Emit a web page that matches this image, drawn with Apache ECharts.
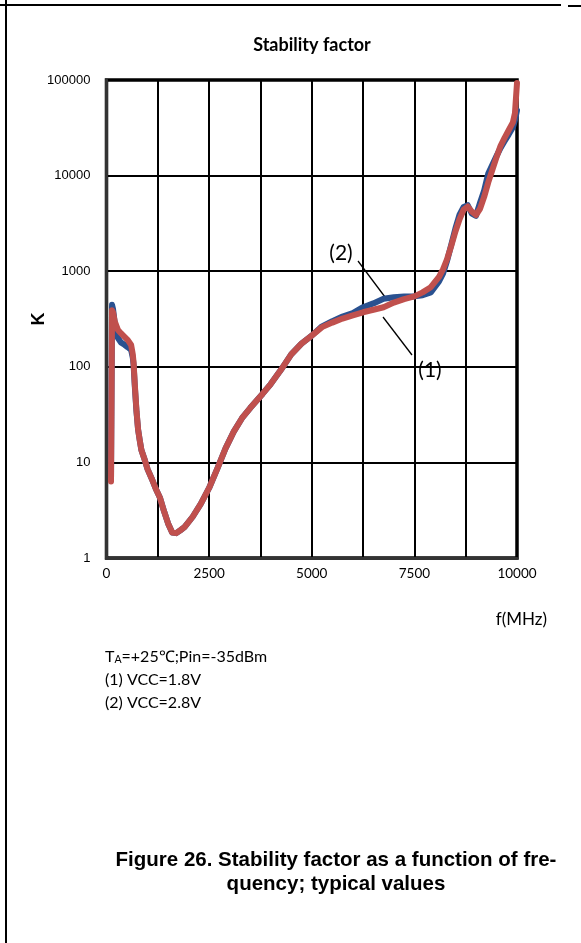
<!DOCTYPE html>
<html>
<head>
<meta charset="utf-8">
<script src="https://cdn.jsdelivr.net/npm/echarts@6/dist/echarts.min.js"></script>
<style>
html,body{margin:0;padding:0;background:#fff;}
#chart{width:581px;height:943px;}
</style>
</head>
<body>
<div id="chart"></div>
<script>
// Frequency points (MHz)
var freqMHz = [110, 135, 160, 200, 280, 350, 440, 520, 600, 640, 660, 690, 730, 770, 810, 850, 920, 1000, 1100, 1200, 1300, 1400, 1500, 1600, 1700, 1800, 1900, 2100, 2300, 2500, 2700, 2900, 3100, 3300, 3500, 3800, 4000, 4250, 4500, 4750, 5000, 5250, 5500, 5750, 6000, 6250, 6500, 6750, 7000, 7250, 7500, 7700, 7900, 8100, 8200, 8300, 8400, 8500, 8600, 8700, 8800, 8900, 9000, 9100, 9200, 9300, 9400, 9500, 9600, 9700, 9800, 9900, 9950, 10000];
// (1) VCC=1.8V (blue)
var kVcc18 = [7, 445, 400, 290, 200, 180, 170, 160, 150, 125, 105, 62, 34, 22, 17, 13.5, 11, 8.5, 6.8, 5.3, 4.3, 3.1, 2.3, 1.85, 1.82, 1.95, 2.1, 2.7, 3.7, 5.4, 8.6, 14, 21, 29, 37, 52, 66, 93, 135, 175, 212, 265, 300, 335, 365, 420, 460, 515, 535, 545, 545, 560, 600, 780, 950, 1300, 1900, 2800, 3900, 4700, 4900, 4000, 3800, 5200, 7000, 10500, 13000, 16000, 19500, 23000, 27000, 32000, 38000, 48000];
// (2) VCC=2.8V (red)
var kVcc28 = [6.3, 390, 370, 300, 243, 225, 206, 190, 169, 135, 110, 65, 35, 22, 17, 13.5, 11, 8.5, 6.8, 5.3, 4.3, 3.1, 2.3, 1.85, 1.82, 1.95, 2.1, 2.7, 3.7, 5.4, 8.6, 14, 21, 29, 37, 52, 66, 93, 135, 175, 212, 260, 290, 320, 345, 372, 395, 420, 470, 510, 545, 600, 680, 870, 1050, 1350, 1850, 2600, 3500, 4400, 4750, 4200, 3870, 4500, 6000, 8500, 11500, 15500, 20500, 25000, 30000, 36000, 45000, 93000];
var xTickStep = 1250;
var xLabelStep = 2500;

var chart = echarts.init(document.getElementById('chart'), null, {renderer: 'canvas'});
function pairs(k){ return freqMHz.map(function(f,i){ return [f, k[i]]; }); }

var option = {
  backgroundColor: '#fff',
  animation: false,
  title: {
    text: 'Stability factor',
    left: 307, top: 31, textAlign: 'center',
    textStyle: {fontFamily: 'Lato', fontWeight: 'bold', fontSize: 18, color: '#000'}
  },
  grid: {left: 106.5, right: 64, top: 80, bottom: 385, show: true, borderColor: '#000', borderWidth: 3.5, backgroundColor: 'transparent'},
  xAxis: {
    type: 'value', min: 0, max: 10000, interval: xTickStep,
    axisLine: {show: true, lineStyle: {color: '#333', width: 3}},
    axisTick: {show: false},
    splitLine: {show: true, lineStyle: {color: '#000', width: 2}},
    axisLabel: {
      margin: 9, color: '#000', fontFamily: 'Lato', fontSize: 13.5,
      formatter: function(v){ return (v % xLabelStep === 0) ? String(v) : ''; }
    }
  },
  yAxis: {
    type: 'log', logBase: 10, min: 1, max: 100000,
    name: 'K', nameLocation: 'middle', nameGap: 58, nameRotate: 90, nameMoveOverlap: false,
    nameTextStyle: {fontFamily: 'Liberation Sans', fontWeight: 'bold', fontSize: 18, color: '#000'},
    axisLine: {show: true, lineStyle: {color: '#333', width: 3}},
    axisTick: {show: false},
    splitLine: {show: true, lineStyle: {color: '#000', width: 2}},
    axisLabel: {margin: 16, color: '#000', fontFamily: 'Liberation Sans', fontSize: 13,
      formatter: function(v){ return String(Math.round(v)); }}
  },
  series: [
    {
      name: '(1) VCC=1.8V', type: 'line', data: pairs(kVcc18), showSymbol: false, z: 2,
      lineStyle: {color: '#2A5190', width: 6, cap: 'round', join: 'round'}
    },
    {
      name: '(2) VCC=2.8V', type: 'line', data: pairs(kVcc28), showSymbol: false, z: 3,
      lineStyle: {color: '#C0504D', width: 6, cap: 'round', join: 'round'}
    }
  ],
  graphic: [
    {type: 'line', shape: {x1: 6, y1: 0, x2: 6, y2: 943}, style: {stroke: '#000', lineWidth: 2}},
    {type: 'line', shape: {x1: 0, y1: 5, x2: 561, y2: 5}, style: {stroke: '#000', lineWidth: 2}},
    {type: 'line', shape: {x1: 568, y1: 6, x2: 581, y2: 6}, style: {stroke: '#000', lineWidth: 2}},
    {type: 'text', x: 547, y: 620, style: {text: 'f(MHz)', fontFamily: 'Lato', fontSize: 17, fill: '#000', textAlign: 'right', textVerticalAlign: 'middle'}},
    {type: 'text', x: 341, y: 253, style: {text: '(2)', fontFamily: 'Lato', fontSize: 21, fill: '#000', textAlign: 'center', textVerticalAlign: 'middle'}},
    {type: 'text', x: 430, y: 370, style: {text: '(1)', fontFamily: 'Lato', fontSize: 21, fill: '#000', textAlign: 'center', textVerticalAlign: 'middle'}},
    {type: 'line', shape: {x1: 358, y1: 261, x2: 385, y2: 297}, style: {stroke: '#000', lineWidth: 1.3}},
    {type: 'line', shape: {x1: 383, y1: 317, x2: 412, y2: 355}, style: {stroke: '#000', lineWidth: 1.3}},
    {type: 'text', x: 105, y: 657, style: {
      text: 'T{s|A}=+25℃;Pin=-35dBm', fontFamily: 'Lato', fontSize: 16, fill: '#000', textVerticalAlign: 'middle',
      rich: {s: {fontFamily: 'Lato', fontSize: 10.5, fill: '#000', verticalAlign: 'bottom', padding: [6,0,0,0]}}
    }},
    {type: 'text', x: 105, y: 680, style: {text: '(1) VCC=1.8V', fontFamily: 'Lato', fontSize: 16, fill: '#000', textVerticalAlign: 'middle'}},
    {type: 'text', x: 105, y: 703, style: {text: '(2) VCC=2.8V', fontFamily: 'Lato', fontSize: 16, fill: '#000', textVerticalAlign: 'middle'}},
    {type: 'text', x: 336, y: 860, style: {text: 'Figure 26. Stability factor as a function of fre-', fontFamily: 'Liberation Sans', fontWeight: 'bold', fontSize: 20.5, fill: '#000', textAlign: 'center', textVerticalAlign: 'middle'}},
    {type: 'text', x: 336, y: 884, style: {text: 'quency; typical values', fontFamily: 'Liberation Sans', fontWeight: 'bold', fontSize: 20.5, fill: '#000', textAlign: 'center', textVerticalAlign: 'middle'}}
  ]
};
chart.setOption(option);
</script>
</body>
</html>
